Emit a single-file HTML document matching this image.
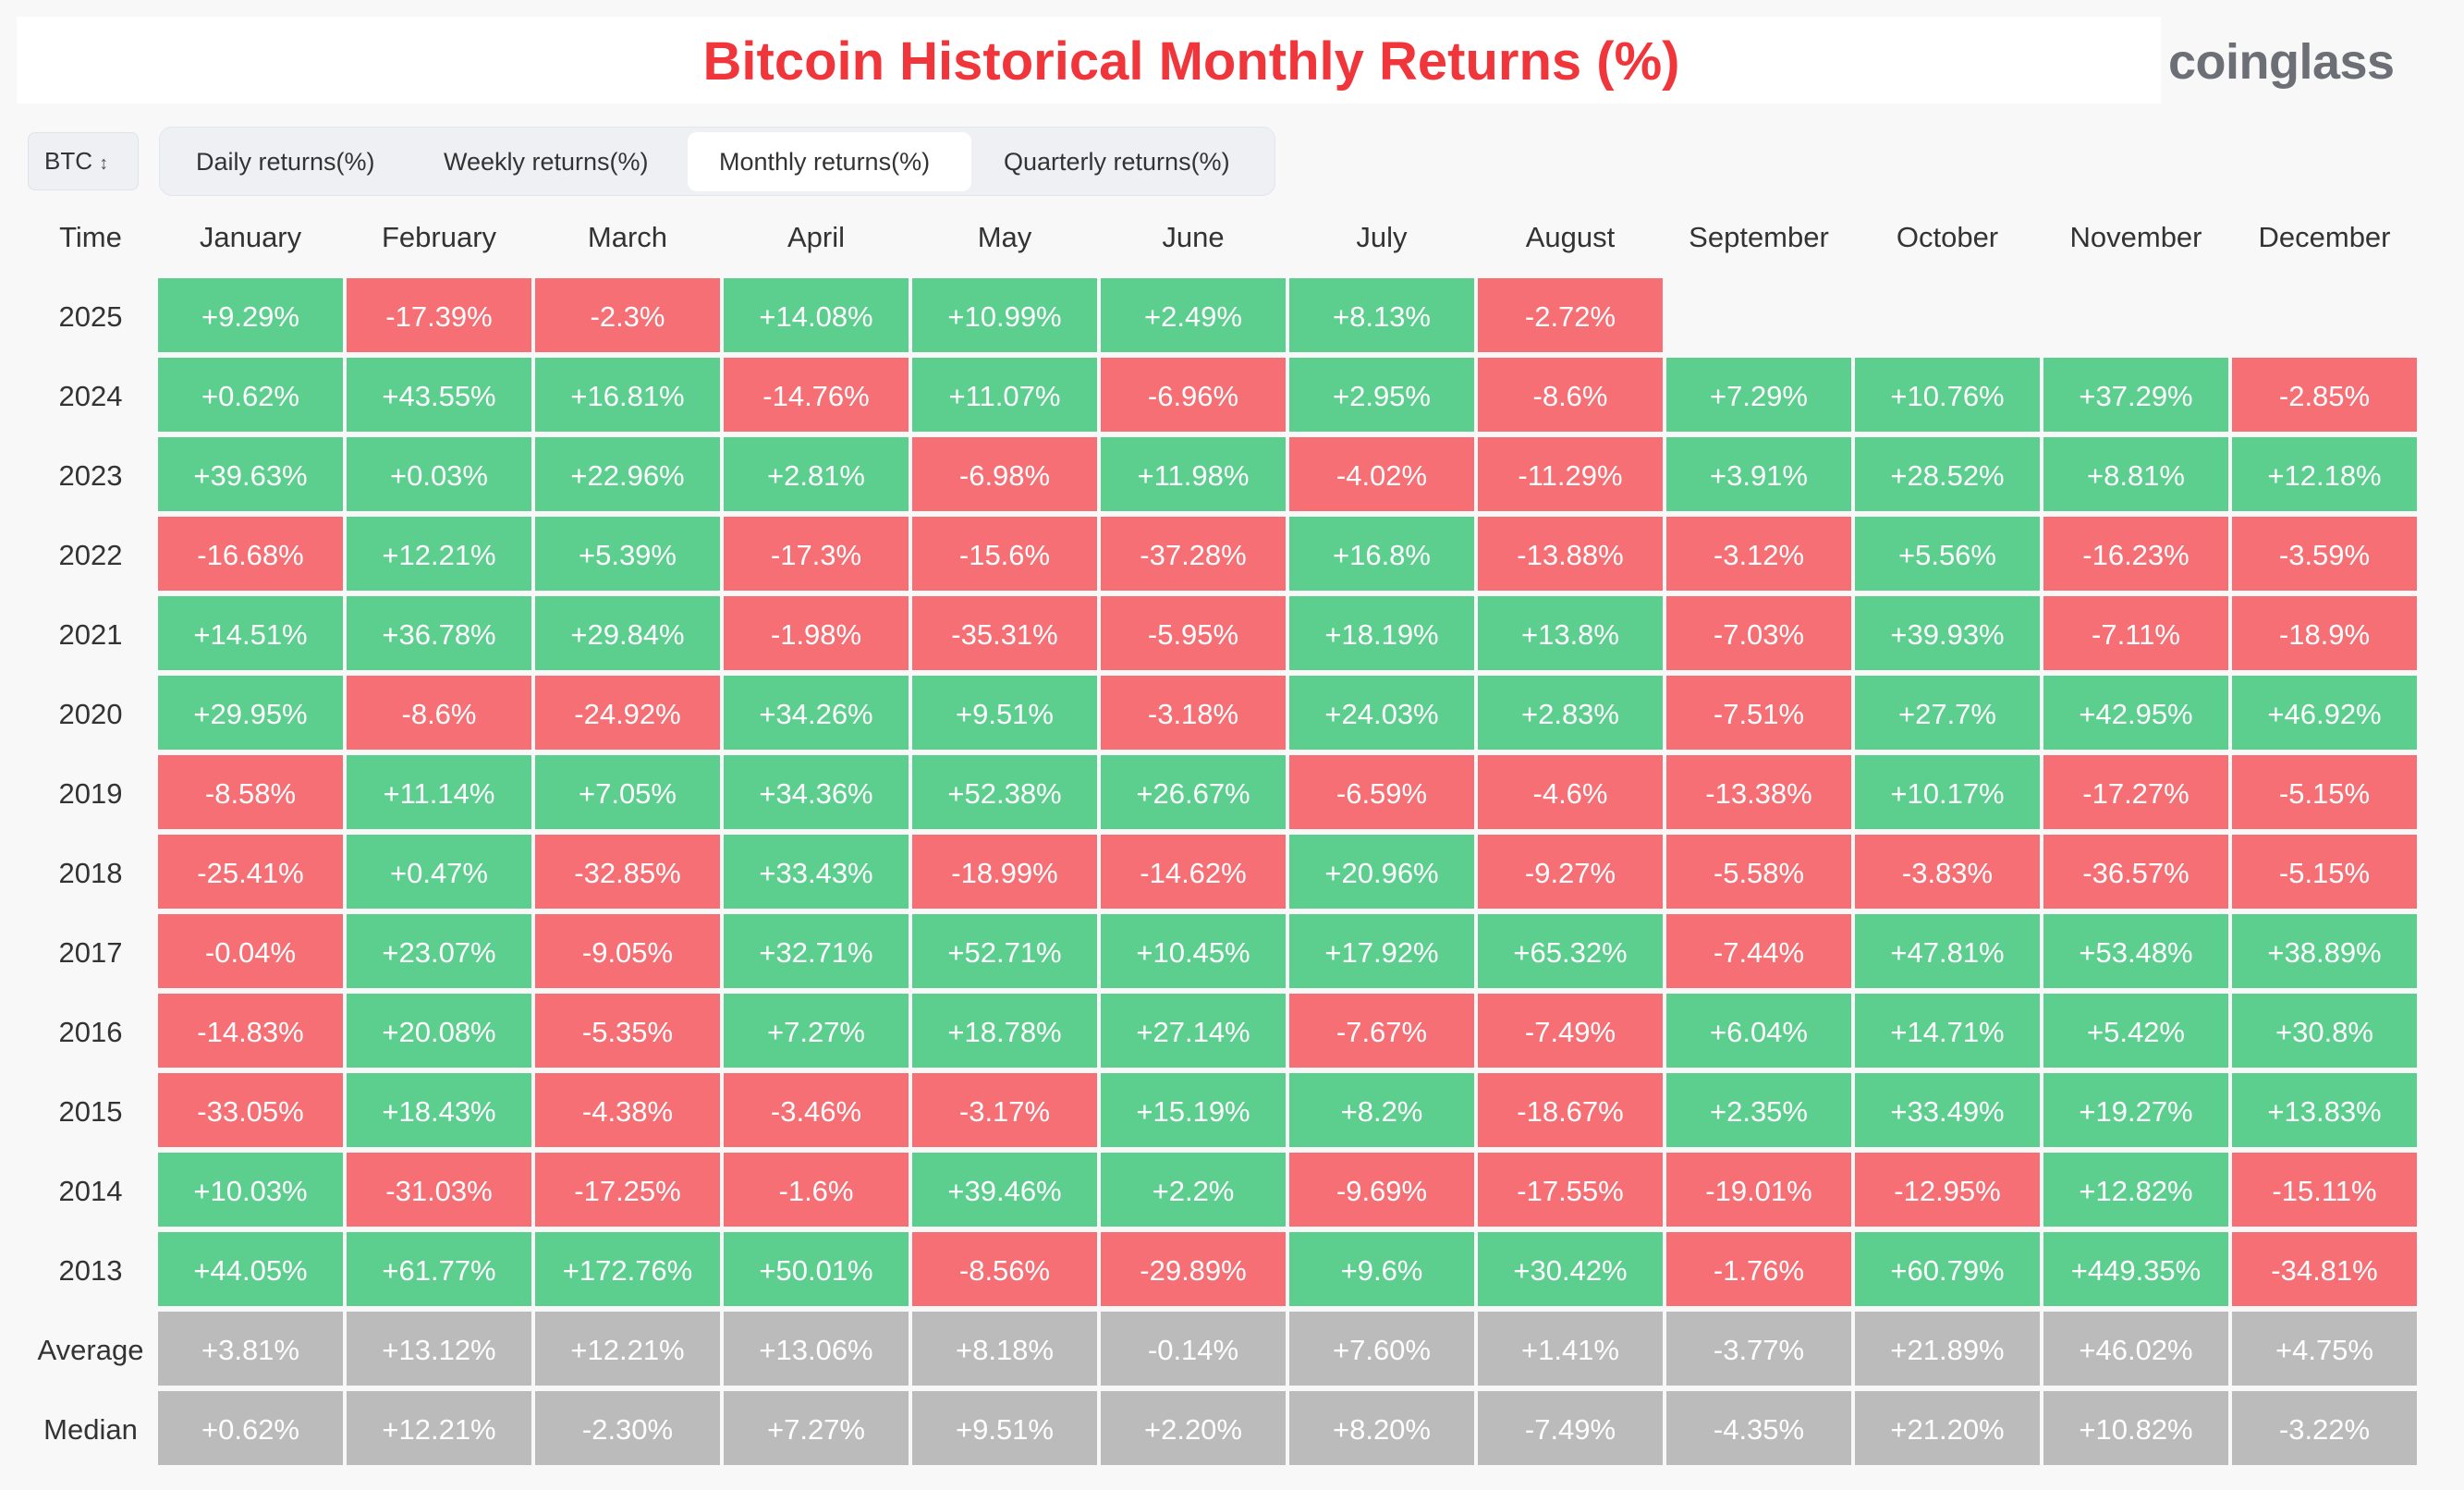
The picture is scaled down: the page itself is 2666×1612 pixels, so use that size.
<!DOCTYPE html>
<html><head><meta charset="utf-8"><style>
body{margin:0;width:2666px;height:1612px;background:#f8f8f9;font-family:"Liberation Sans",sans-serif;position:relative;overflow:hidden}
.tb{position:absolute;left:18px;top:18px;width:2320px;height:94px;background:#fff}
.title{position:absolute;left:0;top:20px;width:2578px;text-align:center;line-height:94px;font-size:58px;font-weight:bold;color:#f0353b;letter-spacing:0px}
.logo{position:absolute;left:2346px;top:36px;font-size:54px;font-weight:bold;color:#6c6f75;letter-spacing:-0.5px}
.sel{position:absolute;left:30px;top:143px;width:120px;height:63px;background:#eef0f4;border:1px solid #dfe2e7;border-radius:8px;box-sizing:border-box;font-size:26px;color:#333;line-height:61px;padding-left:17px}
.tabs{position:absolute;left:172px;top:137px;width:1208px;height:75px;background:#eef0f4;border-radius:14px;border:1px solid #e3e6ea;box-sizing:border-box}
.act{position:absolute;left:744px;top:143px;width:307px;height:64px;background:#fff;border-radius:10px}
.tab{position:absolute;top:143px;line-height:64px;font-size:27px;color:#333}
.hd{position:absolute;top:236px;line-height:42px;font-size:31px;color:#333;text-align:center;width:200px}
.lab{position:absolute;left:0;width:196px;text-align:center;font-size:31px;color:#333;line-height:84px}
.grid{position:absolute;left:171px;top:301px;display:grid;grid-template-columns:repeat(12,200px);grid-auto-rows:80px;gap:6px 4px}
.grid div{color:#fff;font-size:31px;text-align:center;line-height:84px}
.g{background:#5ccf8e}.r{background:#f56f75}.a{background:#bbbbbc}.e{background:transparent}
</style></head><body>
<div class="tb"></div>
<div class="title">Bitcoin Historical Monthly Returns (%)</div>
<div class="logo">coinglass</div>
<div class="sel">BTC <span style="font-size:20px;color:#555">&#8597;</span></div>
<div class="tabs"></div>
<div class="act"></div>
<div class="tab" style="left:212px">Daily returns(%)</div>
<div class="tab" style="left:480px">Weekly returns(%)</div>
<div class="tab" style="left:778px">Monthly returns(%)</div>
<div class="tab" style="left:1086px">Quarterly returns(%)</div>
<div class="hd" style="left:0;width:196px">Time</div>
<div class="hd" style="left:171px">January</div><div class="hd" style="left:375px">February</div><div class="hd" style="left:579px">March</div><div class="hd" style="left:783px">April</div><div class="hd" style="left:987px">May</div><div class="hd" style="left:1191px">June</div><div class="hd" style="left:1395px">July</div><div class="hd" style="left:1599px">August</div><div class="hd" style="left:1803px">September</div><div class="hd" style="left:2007px">October</div><div class="hd" style="left:2211px">November</div><div class="hd" style="left:2415px">December</div>
<div class="lab" style="top:301px">2025</div><div class="lab" style="top:387px">2024</div><div class="lab" style="top:473px">2023</div><div class="lab" style="top:559px">2022</div><div class="lab" style="top:645px">2021</div><div class="lab" style="top:731px">2020</div><div class="lab" style="top:817px">2019</div><div class="lab" style="top:903px">2018</div><div class="lab" style="top:989px">2017</div><div class="lab" style="top:1075px">2016</div><div class="lab" style="top:1161px">2015</div><div class="lab" style="top:1247px">2014</div><div class="lab" style="top:1333px">2013</div><div class="lab" style="top:1419px">Average</div><div class="lab" style="top:1505px">Median</div>
<div class="grid">
<div class="g">+9.29%</div><div class="r">-17.39%</div><div class="r">-2.3%</div><div class="g">+14.08%</div><div class="g">+10.99%</div><div class="g">+2.49%</div><div class="g">+8.13%</div><div class="r">-2.72%</div><div class="e"></div><div class="e"></div><div class="e"></div><div class="e"></div>
<div class="g">+0.62%</div><div class="g">+43.55%</div><div class="g">+16.81%</div><div class="r">-14.76%</div><div class="g">+11.07%</div><div class="r">-6.96%</div><div class="g">+2.95%</div><div class="r">-8.6%</div><div class="g">+7.29%</div><div class="g">+10.76%</div><div class="g">+37.29%</div><div class="r">-2.85%</div>
<div class="g">+39.63%</div><div class="g">+0.03%</div><div class="g">+22.96%</div><div class="g">+2.81%</div><div class="r">-6.98%</div><div class="g">+11.98%</div><div class="r">-4.02%</div><div class="r">-11.29%</div><div class="g">+3.91%</div><div class="g">+28.52%</div><div class="g">+8.81%</div><div class="g">+12.18%</div>
<div class="r">-16.68%</div><div class="g">+12.21%</div><div class="g">+5.39%</div><div class="r">-17.3%</div><div class="r">-15.6%</div><div class="r">-37.28%</div><div class="g">+16.8%</div><div class="r">-13.88%</div><div class="r">-3.12%</div><div class="g">+5.56%</div><div class="r">-16.23%</div><div class="r">-3.59%</div>
<div class="g">+14.51%</div><div class="g">+36.78%</div><div class="g">+29.84%</div><div class="r">-1.98%</div><div class="r">-35.31%</div><div class="r">-5.95%</div><div class="g">+18.19%</div><div class="g">+13.8%</div><div class="r">-7.03%</div><div class="g">+39.93%</div><div class="r">-7.11%</div><div class="r">-18.9%</div>
<div class="g">+29.95%</div><div class="r">-8.6%</div><div class="r">-24.92%</div><div class="g">+34.26%</div><div class="g">+9.51%</div><div class="r">-3.18%</div><div class="g">+24.03%</div><div class="g">+2.83%</div><div class="r">-7.51%</div><div class="g">+27.7%</div><div class="g">+42.95%</div><div class="g">+46.92%</div>
<div class="r">-8.58%</div><div class="g">+11.14%</div><div class="g">+7.05%</div><div class="g">+34.36%</div><div class="g">+52.38%</div><div class="g">+26.67%</div><div class="r">-6.59%</div><div class="r">-4.6%</div><div class="r">-13.38%</div><div class="g">+10.17%</div><div class="r">-17.27%</div><div class="r">-5.15%</div>
<div class="r">-25.41%</div><div class="g">+0.47%</div><div class="r">-32.85%</div><div class="g">+33.43%</div><div class="r">-18.99%</div><div class="r">-14.62%</div><div class="g">+20.96%</div><div class="r">-9.27%</div><div class="r">-5.58%</div><div class="r">-3.83%</div><div class="r">-36.57%</div><div class="r">-5.15%</div>
<div class="r">-0.04%</div><div class="g">+23.07%</div><div class="r">-9.05%</div><div class="g">+32.71%</div><div class="g">+52.71%</div><div class="g">+10.45%</div><div class="g">+17.92%</div><div class="g">+65.32%</div><div class="r">-7.44%</div><div class="g">+47.81%</div><div class="g">+53.48%</div><div class="g">+38.89%</div>
<div class="r">-14.83%</div><div class="g">+20.08%</div><div class="r">-5.35%</div><div class="g">+7.27%</div><div class="g">+18.78%</div><div class="g">+27.14%</div><div class="r">-7.67%</div><div class="r">-7.49%</div><div class="g">+6.04%</div><div class="g">+14.71%</div><div class="g">+5.42%</div><div class="g">+30.8%</div>
<div class="r">-33.05%</div><div class="g">+18.43%</div><div class="r">-4.38%</div><div class="r">-3.46%</div><div class="r">-3.17%</div><div class="g">+15.19%</div><div class="g">+8.2%</div><div class="r">-18.67%</div><div class="g">+2.35%</div><div class="g">+33.49%</div><div class="g">+19.27%</div><div class="g">+13.83%</div>
<div class="g">+10.03%</div><div class="r">-31.03%</div><div class="r">-17.25%</div><div class="r">-1.6%</div><div class="g">+39.46%</div><div class="g">+2.2%</div><div class="r">-9.69%</div><div class="r">-17.55%</div><div class="r">-19.01%</div><div class="r">-12.95%</div><div class="g">+12.82%</div><div class="r">-15.11%</div>
<div class="g">+44.05%</div><div class="g">+61.77%</div><div class="g">+172.76%</div><div class="g">+50.01%</div><div class="r">-8.56%</div><div class="r">-29.89%</div><div class="g">+9.6%</div><div class="g">+30.42%</div><div class="r">-1.76%</div><div class="g">+60.79%</div><div class="g">+449.35%</div><div class="r">-34.81%</div>
<div class="a">+3.81%</div><div class="a">+13.12%</div><div class="a">+12.21%</div><div class="a">+13.06%</div><div class="a">+8.18%</div><div class="a">-0.14%</div><div class="a">+7.60%</div><div class="a">+1.41%</div><div class="a">-3.77%</div><div class="a">+21.89%</div><div class="a">+46.02%</div><div class="a">+4.75%</div>
<div class="a">+0.62%</div><div class="a">+12.21%</div><div class="a">-2.30%</div><div class="a">+7.27%</div><div class="a">+9.51%</div><div class="a">+2.20%</div><div class="a">+8.20%</div><div class="a">-7.49%</div><div class="a">-4.35%</div><div class="a">+21.20%</div><div class="a">+10.82%</div><div class="a">-3.22%</div>
</div>
</body></html>
